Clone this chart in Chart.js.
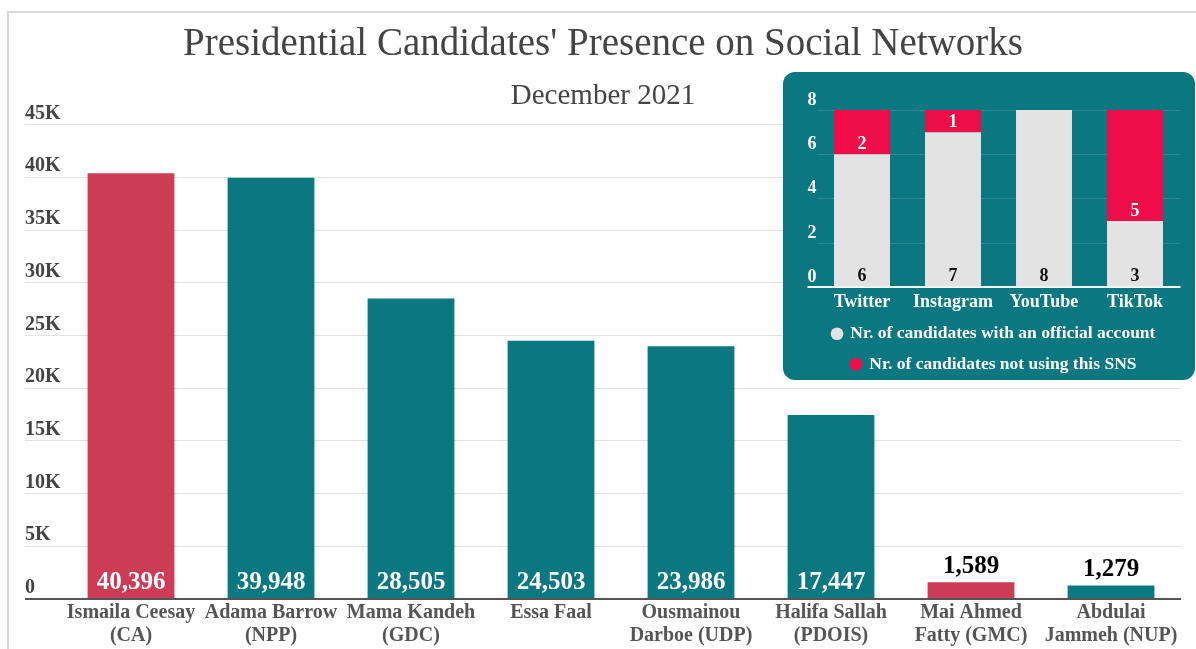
<!DOCTYPE html>
<html>
<head>
<meta charset="utf-8">
<script src="https://cdn.jsdelivr.net/npm/chart.js@4.4.1/dist/chart.umd.min.js"></script>
<style>
  html, body { margin: 0; padding: 0; background: #fff; overflow: hidden; }
  .frame {
    position: absolute; left: 7px; top: 11px; width: 1300px; height: 700px;
    border: 2px solid #d9d9d9; box-sizing: border-box;
  }
  #mainChart { position: absolute; left: 9px; top: 13px; }
  .inset {
    position: absolute; left: 783px; top: 72px; width: 412px; height: 308px;
    background: #0b7781; border-radius: 12px; overflow: hidden;
  }
  #snsChart { position: absolute; left: 0; top: 0; }
</style>
</head>
<body>
<div class="frame"></div>
<canvas id="mainChart" width="1187" height="636"></canvas>
<div class="inset"><canvas id="snsChart" width="412" height="308"></canvas></div>

<script>
// followers per candidate
const candidates = [
  ['Ismaila Ceesay', '(CA)'],
  ['Adama Barrow', '(NPP)'],
  ['Mama Kandeh', '(GDC)'],
  ['Essa Faal'],
  ['Ousmainou', 'Darboe (UDP)'],
  ['Halifa Sallah', '(PDOIS)'],
  ['Mai Ahmed', 'Fatty (GMC)'],
  ['Abdulai', 'Jammeh (NUP)']
];
const followers = [40396, 39948, 28505, 24503, 23986, 17447, 1589, 1279];
const followerTicks = [0, 5000, 10000, 15000, 20000, 25000, 30000, 35000, 40000, 45000];

// accounts per network
const networks = ['Twitter', 'Instagram', 'YouTube', 'TikTok'];
const withAccount = [6, 7, 8, 3];
const withoutAccount = [2, 1, 0, 5];

const SERIF = "'Liberation Serif', 'Times New Roman', serif";
const TEAL = '#0b7781';
const RED = '#cc3d55';
const accentBars = [0, 6];

// writes the value of each bar, inside at the foot or just above when the bar is short
const barValueLabels = {
  id: 'barValueLabels',
  afterDatasetsDraw(chart, args, opts) {
    const ctx = chart.ctx;
    ctx.save();
    ctx.font = opts.font;
    ctx.textAlign = 'center';
    ctx.textBaseline = 'middle';
    chart.data.datasets.forEach((ds, di) => {
      chart.getDatasetMeta(di).data.forEach((bar, i) => {
        const v = ds.data[i];
        if (!v) return;
        const inside = bar.base - bar.y > opts.minInside;
        ctx.fillStyle = inside ? opts.insideColors[di] : opts.outsideColor;
        const y = inside ? bar.base - opts.offset : bar.y - opts.outsideOffset;
        ctx.fillText(v.toLocaleString('en-US'), bar.x, y);
      });
    });
    ctx.restore();
  }
};

new Chart(document.getElementById('mainChart'), {
  type: 'bar',
  data: {
    labels: candidates,
    datasets: [{
      data: followers,
      backgroundColor: followers.map((v, i) => accentBars.includes(i) ? RED : TEAL),
      barPercentage: 0.62,
      categoryPercentage: 1
    }]
  },
  plugins: [barValueLabels],
  options: {
    responsive: false,
    animation: false,
    layout: { padding: { left: 16, right: 15, top: 0, bottom: 0 } },
    plugins: {
      legend: { display: false },
      tooltip: { enabled: false },
      title: {
        display: true,
        text: "Presidential Candidates' Presence on Social Networks",
        color: '#444',
        font: { family: SERIF, size: 39, weight: 'normal' },
        padding: { top: 8, bottom: 8 }
      },
      subtitle: {
        display: true,
        text: 'December 2021',
        color: '#444',
        font: { family: SERIF, size: 29, weight: 'normal' },
        padding: { top: 3, bottom: 11 }
      },
      barValueLabels: {
        font: 'bold 25px ' + SERIF,
        minInside: 40,
        offset: 15,
        outsideOffset: 16,
        insideColors: ['#fff'],
        outsideColor: '#000'
      }
    },
    scales: {
      x: {
        grid: { display: false, drawTicks: false },
        border: { display: false },
        ticks: {
          color: '#555',
          padding: 2,
          font: { family: SERIF, size: 20, weight: 'bold', lineHeight: 1.15 }
        }
      },
      y: {
        min: 0,
        max: 45000,
        afterFit(scale) { scale.width = 36; },
        afterBuildTicks(scale) { scale.ticks = followerTicks.map(v => ({ value: v })); },
        border: { display: false },
        grid: {
          color: c => c.tick && c.tick.value === 0 ? '#555' : '#e3e3e3',
          tickColor: c => c.tick && c.tick.value === 0 ? '#555' : '#e3e3e3',
          lineWidth: c => c.tick && c.tick.value === 0 ? 2 : 1,
          tickLength: 36
        },
        ticks: {
          crossAlign: 'far',
          labelOffset: -11,
          color: '#444',
          font: { family: SERIF, size: 20, weight: 'bold' },
          callback: v => v === 0 ? '0' : (v / 1000) + 'K'
        }
      }
    }
  }
});

new Chart(document.getElementById('snsChart'), {
  type: 'bar',
  data: {
    labels: networks,
    datasets: [{
      label: 'Nr. of candidates with an official account',
      data: withAccount,
      backgroundColor: '#e3e3e3',
      barPercentage: 0.615,
      categoryPercentage: 1
    }, {
      label: 'Nr. of candidates not using this SNS',
      data: withoutAccount,
      backgroundColor: '#ee0d48',
      barPercentage: 0.615,
      categoryPercentage: 1
    }]
  },
  plugins: [barValueLabels],
  options: {
    responsive: false,
    animation: false,
    layout: { padding: { left: 24.5, right: 14.5, top: 38, bottom: -3 } },
    plugins: {
      tooltip: { enabled: false },
      legend: {
        position: 'bottom',
        labels: {
          color: '#fff',
          usePointStyle: true,
          pointStyle: 'circle',
          boxWidth: 9,
          boxHeight: 9,
          padding: 13,
          font: { family: SERIF, size: 17.5, weight: 'bold' }
        }
      },
      barValueLabels: {
        font: 'bold 18px ' + SERIF,
        minInside: 0,
        offset: 10,
        outsideOffset: 10,
        insideColors: ['#111', '#fff'],
        outsideColor: '#fff'
      }
    },
    scales: {
      x: {
        stacked: true,
        afterFit(scale) { scale.height -= 5; },
        grid: { display: false, drawTicks: false },
        border: { display: false },
        ticks: {
          color: '#fff',
          padding: 4,
          font: { family: SERIF, size: 18, weight: 'bold' }
        }
      },
      y: {
        stacked: true,
        min: 0,
        max: 8,
        afterFit(scale) { scale.width = 9; },
        border: { display: false },
        grid: {
          color: c => c.tick && c.tick.value === 0 ? '#fff' : 'rgba(255,255,255,0.13)',
          tickColor: c => c.tick && c.tick.value === 0 ? '#fff' : 'rgba(0,0,0,0)',
          lineWidth: c => c.tick && c.tick.value === 0 ? 2 : 1,
          tickLength: 9
        },
        ticks: {
          stepSize: 2,
          crossAlign: 'far',
          labelOffset: -10,
          color: '#fff',
          font: { family: SERIF, size: 18, weight: 'bold' }
        }
      }
    }
  }
});
</script>
</body>
</html>
